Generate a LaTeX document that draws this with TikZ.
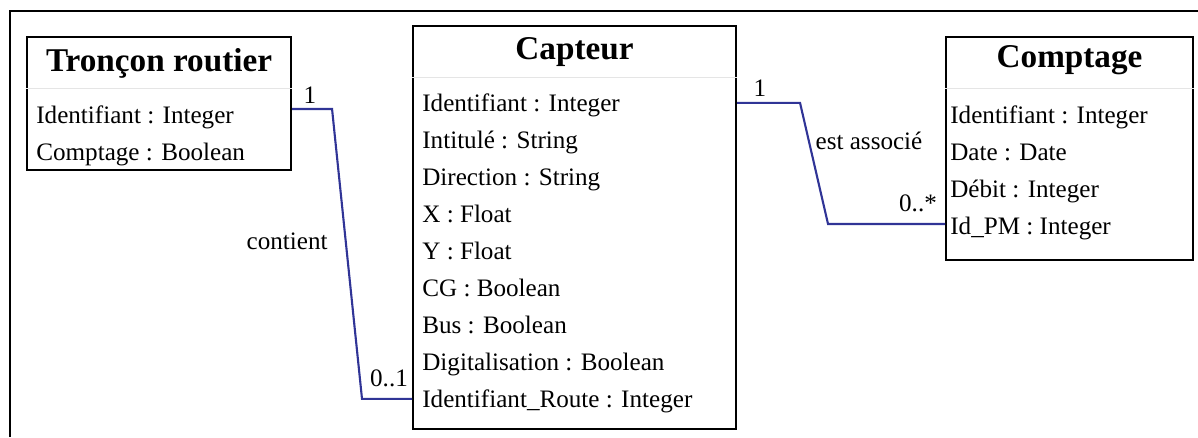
\documentclass[tikz,border=0pt]{standalone}
\usepackage{fontspec}
\setmainfont{Liberation Serif}
\usetikzlibrary{positioning}

\definecolor{linkblue}{RGB}{48,52,150}

\tikzset{
  classbox/.style = {draw, line width = 1.2pt, inner sep = 0pt, anchor = north west},
  classtitle/.style = {anchor = base, inner sep = 0pt, font = \bfseries\fontsize{18.9}{22}\selectfont},
  attr/.style = {anchor = base west, inner sep = 0pt, font = \fontsize{14.3}{17}\selectfont},
  sepline/.style = {draw = black!10, line width = 0.5pt},
  assoc/.style = {draw = linkblue, line width = 1.2pt},
  lbl/.style = {inner sep = 0pt, font = \fontsize{14.3}{17}\selectfont}
}

\begin{document}
\begin{tikzpicture}[x = 0.02cm, y = -0.02cm]

        \useasboundingbox (0, 0) rectangle (1198, 437);

        % Outer frame, only its top and left sides.
        \draw[line width = 1.6pt] (10, 437) -- (10, 11) -- (1198, 11);

        % Class Troncon routier.
        \node[classbox, minimum width = 5.28cm, minimum height = 2.66cm] (troncon) at (26, 36) {};
        \node[classtitle] (troncon-title) at ([yshift = -0.72cm]troncon.north) {Tronçon routier};
        \draw[sepline] ([yshift = -1.04cm]troncon.north west) -- ([yshift = -1.04cm]troncon.north east);
        \foreach \txt [count = \i] in {Identifiant : Integer, Comptage : Boolean}
            \node[attr] (t\i) at ([xshift = 0.2cm, yshift = {-(50 + 37*\i)*0.02cm}]troncon.north west) {\txt};

        % Class Capteur.
        \node[classbox, minimum width = 6.46cm, minimum height = 8.06cm] (capteur) at (412, 25) {};
        \node[classtitle] (capteur-title) at ([yshift = -0.70cm]capteur.north) {Capteur};
        \draw[sepline] ([yshift = -1.04cm]capteur.north west) -- ([yshift = -1.04cm]capteur.north east);
        \foreach \txt [count = \i] in {Identifiant : Integer, Intitulé : String, Direction : String,
                X : Float, Y : Float, CG : Boolean, Bus : Boolean, Digitalisation : Boolean,
                Identifiant\_Route : Integer}
            \node[attr] (c\i) at ([xshift = 0.2cm, yshift = {-(49 + 37*\i)*0.02cm}]capteur.north west) {\txt};

        % Class Comptage.
        \node[classbox, minimum width = 4.94cm, minimum height = 4.46cm] (comptage) at (945, 36) {};
        \node[classtitle] (comptage-title) at ([yshift = -0.64cm]comptage.north) {Comptage};
        \draw[sepline] ([yshift = -1.04cm]comptage.north west) -- ([yshift = -1.04cm]comptage.north east);
        \foreach \txt [count = \i] in {Identifiant : Integer, Date : Date, Débit : Integer, Id\_PM : Integer}
            \node[attr] (m\i) at ([xshift = 0.1cm, yshift = {-(50 + 37*\i)*0.02cm}]comptage.north west) {\txt};

        % Association between Troncon routier and Capteur.
        \draw[assoc] ([yshift = -0.11cm]troncon.east) -- ++(40, 0)
            -- ([xshift = -1cm, yshift = 0.04cm]capteur.west |- c9) -- ([yshift = 0.04cm]capteur.west |- c9);
        \node[lbl] (contient-a) at (310, 95) {1};
        \node[lbl, anchor = east] (contient) at (328, 241) {contient};
        \node[lbl] (contient-b) at (389, 378) {0..1};

        % Association between Capteur and Comptage.
        \draw[assoc] ([yshift = 0.04cm]capteur.east |- c1) -- ++(63, 0)
            -- ([xshift = -2.34cm, yshift = 0.08cm]comptage.west |- m4) -- ([yshift = 0.08cm]comptage.west |- m4);
        \node[lbl] (associe-a) at (760, 88) {1};
        \node[lbl] (associe) at (869, 141) {est associé};
        \node[lbl] (associe-b) at (918, 203) {0..*};

    \end{tikzpicture}
\end{document}
